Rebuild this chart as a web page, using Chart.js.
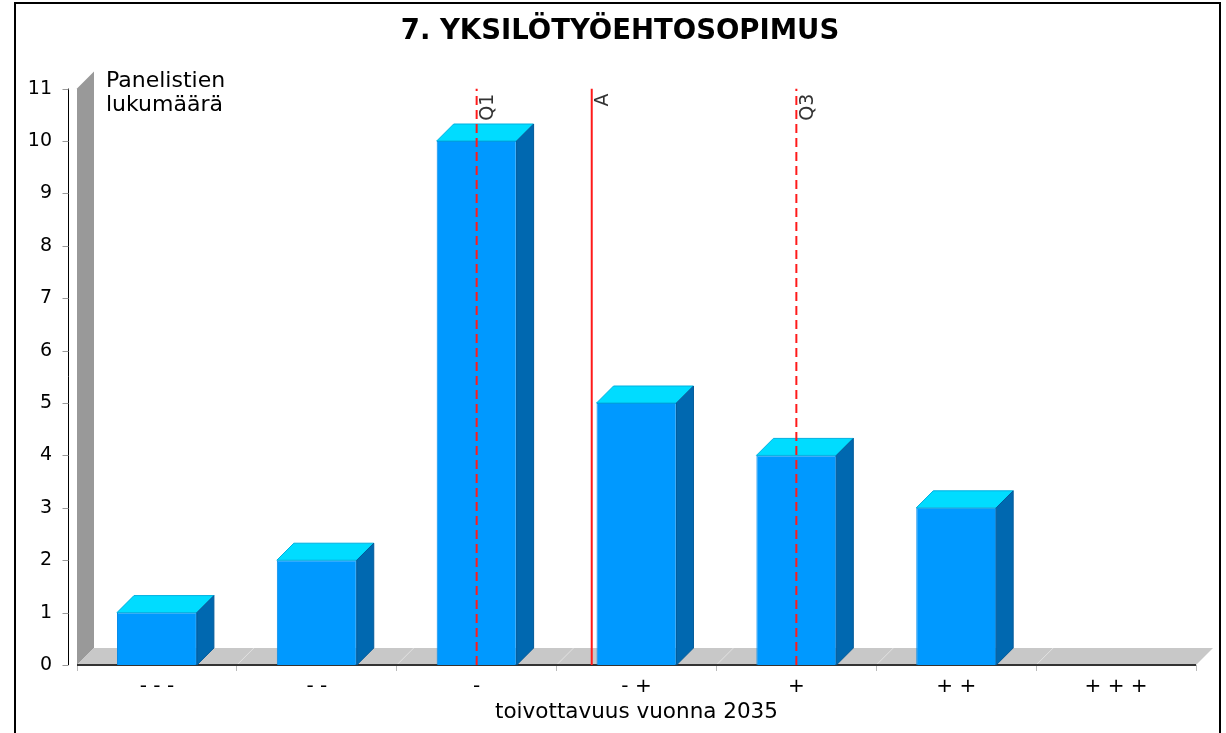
<!DOCTYPE html>
<html lang="fi">
<head>
  <meta charset="UTF-8">
  <title>7. Yksilötyöehtosopimus</title>
  <script src="https://cdn.jsdelivr.net/npm/chart.js"></script>
  <style>
    html, body { margin: 0; padding: 0; background: #fff; overflow: hidden; }
    #alue { position: absolute; left: 0; top: 0; width: 1226px; height: 733px; }
    #kehys {
      position: absolute; left: 14px; top: 2px; width: 1203px; height: 800px;
      border: 2px solid #000; pointer-events: none;
    }
  </style>
</head>
<body>
  <div id="alue"><canvas id="kaavio" width="1226" height="733"></canvas></div>
  <div id="kehys"></div>

  <script>
    // Kysymyksen tiedot
    const otsikko = '7. YKSILÖTYÖEHTOSOPIMUS';
    const xOtsikko = 'toivottavuus vuonna 2035';
    const yOtsikko = ['Panelistien', 'lukumäärä'];
    const luokat = ['- - -', '- -', '-', '- +', '+', '+ +', '+ + +'];
    const vastaukset = [1, 2, 10, 5, 4, 3, 0];
    const yMax = 11;

    // Kvartiilit ja keskiarvo (asteikolla 1..7)
    const tunnusluvut = ['Q1', 'A', 'Q3'];
    const tunnuslukuArvot = [3, 3.72, 5];
    const katkoviiva = [true, false, true];

    const SYVYYS = 17;      // 3D-syvyys pikseleinä
    const FONTTI = 'DejaVu Sans';

    function viiva(ctx, x1, y1, x2, y2) {
      ctx.beginPath();
      ctx.moveTo(x1, y1);
      ctx.lineTo(x2, y2);
      ctx.stroke();
    }

    function monikulmio(ctx, pisteet, tayte, reuna) {
      ctx.beginPath();
      ctx.moveTo(pisteet[0][0], pisteet[0][1]);
      for (let i = 1; i < pisteet.length; i++) ctx.lineTo(pisteet[i][0], pisteet[i][1]);
      ctx.closePath();
      ctx.fillStyle = tayte;
      ctx.fill();
      if (reuna) {
        ctx.strokeStyle = reuna;
        ctx.lineWidth = 1;
        ctx.stroke();
      }
    }

    // Seinä, lattia, akselit ja pylväiden 3D-pinnat
    const kolmeD = {
      id: 'kolmeD',
      beforeDatasetsDraw(chart) {
        const { ctx, chartArea: a, scales: { x, y } } = chart;
        const d = SYVYYS;
        ctx.save();
        // takaseinä
        monikulmio(ctx, [[a.left, a.top], [a.left + d, a.top - d], [a.left + d, a.bottom - d], [a.left, a.bottom]], '#999999');
        // lattia
        monikulmio(ctx, [[a.left, a.bottom], [a.left + d, a.bottom - d], [a.right + d, a.bottom - d], [a.right, a.bottom]], '#c8c8c8');
        // lattian ruudukko luokkien rajoilla
        ctx.strokeStyle = '#e2e2e2';
        ctx.lineWidth = 1;
        for (let i = 1; i < luokat.length; i++) {
          const bx = (x.getPixelForValue(i - 1) + x.getPixelForValue(i)) / 2;
          viiva(ctx, bx, a.bottom, bx + d, a.bottom - d);
        }
        // x-akselin viiva
        ctx.strokeStyle = '#333';
        ctx.lineWidth = 2;
        viiva(ctx, a.left, a.bottom, a.right, a.bottom);
        // y-akseli hieman irti seinästä
        const ax = a.left - 8.5;
        ctx.strokeStyle = '#000';
        ctx.lineWidth = 1;
        viiva(ctx, ax, a.top, ax, a.bottom);
        ctx.strokeStyle = '#999';
        y.ticks.forEach(t => {
          const py = Math.round(y.getPixelForValue(t.value)) + 0.5;
          viiva(ctx, ax - 6, py, ax, py);
        });
        ctx.restore();
      },
      afterDatasetDraw(chart, args) {
        if (args.meta.type !== 'bar') return;
        const { ctx } = chart;
        const d = SYVYYS;
        ctx.save();
        args.meta.data.forEach((el, i) => {
          if (!vastaukset[i]) return;
          const { x, y, base, width } = el.getProps(['x', 'y', 'base', 'width'], true);
          const l = x - width / 2, r = x + width / 2;
          // kansi
          monikulmio(ctx, [[l, y], [l + d, y - d], [r + d, y - d], [r, y]], '#00dcff', '#00b0e0');
          // kylki
          monikulmio(ctx, [[r, y], [r + d, y - d], [r + d, base - d], [r, base]], '#0068b0', '#005a9a');
        });
        ctx.restore();
      },
      afterDatasetsDraw(chart) {
        const { ctx, chartArea: a, scales: { xm } } = chart;
        ctx.save();
        // tunnuslukujen nimet pystyyn viivojen viereen
        ctx.fillStyle = '#333';
        ctx.font = '19px "' + FONTTI + '"';
        ctx.textAlign = 'right';
        ctx.textBaseline = 'top';
        tunnusluvut.forEach((nimi, i) => {
          const px = xm.getPixelForValue(tunnuslukuArvot[i]);
          ctx.save();
          ctx.translate(px + 2, a.top + 5);
          ctx.rotate(-Math.PI / 2);
          ctx.fillText(nimi, 0, 0);
          ctx.restore();
        });
        // y-akselin nimi kaavion sisällä
        ctx.fillStyle = '#000';
        ctx.font = '22px "' + FONTTI + '"';
        ctx.textAlign = 'left';
        ctx.textBaseline = 'alphabetic';
        yOtsikko.forEach((rivi, i) => ctx.fillText(rivi, a.left + 29, a.top - 2 + i * 24));
        ctx.restore();
      }
    };

    const viivat = tunnusluvut.map((nimi, i) => ({
      type: 'line',
      label: nimi,
      data: [{ x: tunnuslukuArvot[i], y: 0 }, { x: tunnuslukuArvot[i], y: yMax }],
      xAxisID: 'xm',
      yAxisID: 'y',
      borderColor: '#ff1a1a',
      borderWidth: 2,
      borderDash: katkoviiva[i] ? [9, 5] : [],
      pointRadius: 0,
      order: 0
    }));

    new Chart(document.getElementById('kaavio'), {
      type: 'bar',
      data: {
        labels: luokat,
        datasets: [{
          label: 'Panelistien lukumäärä',
          data: vastaukset,
          xAxisID: 'x',
          yAxisID: 'y',
          backgroundColor: '#0099ff',
          borderColor: '#0088e6',
          borderWidth: c => (c.raw ? 1 : 0),
          grouped: false,
          categoryPercentage: 1,
          barPercentage: 0.5,
          order: 1
        }, ...viivat]
      },
      options: {
        responsive: false,
        animation: false,
        layout: { padding: { left: 26, right: 12, top: 0, bottom: 0 } },
        plugins: {
          legend: { display: false },
          tooltip: { enabled: false },
          title: {
            display: true,
            text: otsikko,
            color: '#000',
            font: { family: FONTTI, size: 27.5, weight: 'bold' },
            padding: { top: 15, bottom: 40.6 }
          }
        },
        scales: {
          x: {
            type: 'category',
            offset: true,
            grid: { display: true, drawOnChartArea: false, offset: true, tickLength: 6, color: '#bbb' },
            border: { display: false },
            ticks: { color: '#000', font: { family: FONTTI, size: 20 }, padding: 4, maxRotation: 0, autoSkip: false },
            title: { display: true, text: xOtsikko, color: '#000', font: { family: FONTTI, size: 21.5 }, padding: { top: 0, bottom: 8 } },
            afterFit: s => { s.height = 68; }
          },
          xm: { type: 'linear', display: false, offset: false, min: 0.5, max: 7.5 },
          y: {
            min: 0,
            max: yMax,
            grid: { display: false, drawTicks: false },
            border: { display: false },
            ticks: { stepSize: 1, color: '#000', font: { family: FONTTI, size: 19 }, padding: 25 },
            afterFit: s => { s.width = 51; }
          },
          // tyhjä oikea reuna-alue lattian 3D-ulokkeelle
          yOikea: {
            type: 'linear',
            position: 'right',
            min: 0,
            max: yMax,
            grid: { display: false, drawTicks: false },
            border: { display: false },
            ticks: { display: false },
            afterFit: s => { s.width = 18; }
          }
        }
      },
      plugins: [kolmeD]
    });
  </script>
</body>
</html>
